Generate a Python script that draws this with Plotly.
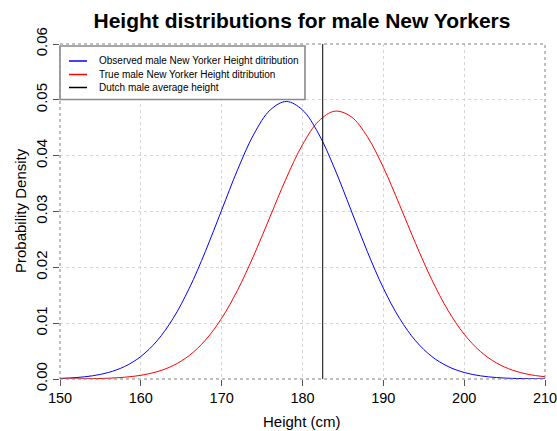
import plotly.graph_objects as go

# Heights (cm) at which densities were read
heights = [150, 152, 154, 156, 158, 160, 162, 164, 166, 168, 170, 172, 174, 176, 178,
           180, 182, 184, 186, 188, 190, 192, 194, 196, 198, 200, 202, 204, 206, 208, 210]

observed_density = [0.00011, 0.00026, 0.00057, 0.00117, 0.00224, 0.00403, 0.00683, 0.01087,
                    0.01627, 0.02289, 0.03026, 0.03759, 0.04390, 0.04818, 0.04970,
                    0.04818, 0.04390, 0.03759, 0.03026, 0.02289, 0.01627, 0.01087, 0.00683,
                    0.00403, 0.00224, 0.00117, 0.00057, 0.00026, 0.00011, 0.00005, 0.00002]

true_density = [0.00001, 0.00002, 0.00006, 0.00014, 0.00032, 0.00066, 0.00130, 0.00241,
                0.00422, 0.00698, 0.01088, 0.01601, 0.02222, 0.02911, 0.03599,
                0.04197, 0.04619, 0.04797, 0.04700, 0.04346, 0.03792, 0.03121, 0.02425,
                0.01777, 0.01229, 0.00802, 0.00494, 0.00287, 0.00157, 0.00081, 0.00040]

dutch_height = 182.5

series_names = ["Observed male New Yorker Height ditribution",
                "True male New Yorker Height ditribution",
                "Dutch male average height"]
series_colors = ["#0000FF", "#FF0000", "#000000"]

x_ticks = [150, 160, 170, 180, 190, 200, 210]
y_ticks = [0.00, 0.01, 0.02, 0.03, 0.04, 0.05, 0.06]

W, H = 557, 431
L, R, T, B = 60, 12, 44, 52
pw, ph = W - L - R, H - T - B

fig = go.Figure()
fig.add_trace(go.Scatter(x=heights, y=observed_density, mode="lines", line_shape="spline",
                         line=dict(color=series_colors[0], width=1), name=series_names[0]))
fig.add_trace(go.Scatter(x=heights, y=true_density, mode="lines", line_shape="spline",
                         line=dict(color=series_colors[1], width=1), name=series_names[1]))
fig.add_trace(go.Scatter(x=[dutch_height, dutch_height], y=[y_ticks[0], y_ticks[-1]], mode="lines",
                         line=dict(color=series_colors[2], width=1), name=series_names[2]))

# dotted plot border
fig.add_shape(type="rect", xref="paper", yref="paper", x0=0, y0=0, x1=1, y1=1,
              line=dict(color="#808080", width=1, dash="dot"), layer="above")

# custom legend box (pixel positions converted to paper coords)
def px_x(p):
    return (p - L) / pw

def px_y(p):
    return (H - B - p) / ph

fig.add_shape(type="rect", xref="paper", yref="paper",
              x0=px_x(60), x1=px_x(305), y0=px_y(99.5), y1=px_y(46),
              line=dict(color="#8a8a8a", width=1.6), fillcolor="white", layer="above")
entry_y = [61, 74.5, 87.5]
for name, color, ey in zip(series_names, series_colors, entry_y):
    fig.add_shape(type="line", xref="paper", yref="paper",
                  x0=px_x(69), x1=px_x(87), y0=px_y(ey), y1=px_y(ey),
                  line=dict(color=color, width=1.5), layer="above")
    fig.add_annotation(text=name, xref="paper", yref="paper", x=px_x(97), y=px_y(ey),
                       xanchor="left", yanchor="middle", showarrow=False,
                       font=dict(size=10, color="black"))

# axis titles
fig.add_annotation(text="Height (cm)", xref="paper", yref="paper",
                   x=px_x(302), y=px_y(422), xanchor="center", yanchor="middle",
                   showarrow=False, font=dict(size=15, color="black"))
fig.add_annotation(text="Probability Density", xref="paper", yref="paper",
                   x=px_x(20), y=px_y(211), xanchor="center", yanchor="middle",
                   textangle=-90, showarrow=False, font=dict(size=15, color="black"))

fig.update_layout(
    width=W, height=H,
    margin=dict(l=L, r=R, t=T, b=B),
    paper_bgcolor="white", plot_bgcolor="white",
    font=dict(family="Liberation Sans, Arial, sans-serif", color="black"),
    title=dict(text="<b>Height distributions for male New Yorkers</b>",
               x=302 / W, xanchor="center", y=1 - 21 / H, yanchor="middle",
               font=dict(size=21, color="black")),
    showlegend=False,
)
fig.update_xaxes(range=[150, 210], tickvals=x_ticks, ticktext=[str(v) for v in x_ticks],
                 showgrid=True, gridcolor="#d6d6d6", griddash="dot", gridwidth=1,
                 zeroline=False, showline=False, ticks="outside", ticklen=6,
                 tickcolor="#555555", tickfont=dict(size=14.5), automargin=False,
                 ticklabeloverflow="allow")
fig.update_yaxes(range=[0, 0.06], tickvals=y_ticks, ticktext=["%.2f" % v for v in y_ticks],
                 showgrid=True, gridcolor="#d6d6d6", griddash="dot", gridwidth=1,
                 zeroline=False, showline=False, ticks="outside", ticklen=6,
                 tickcolor="#555555", tickfont=dict(size=15), tickangle=-90,
                 automargin=False, ticklabeloverflow="allow")

fig.write_html("out.html", config={"displayModeBar": False},
               post_script="document.body.style.margin='0';document.body.style.padding='0';")
